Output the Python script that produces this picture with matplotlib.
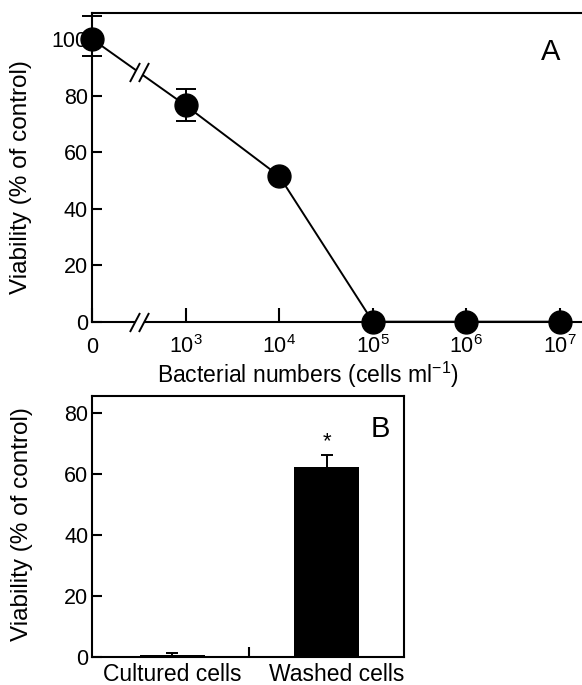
import numpy as np
import matplotlib
matplotlib.use("Agg")
import matplotlib.pyplot as plt
import matplotlib.transforms as mtransforms
from matplotlib.path import Path

plt.rcParams['font.family'] = ['Liberation Sans', 'DejaVu Sans']
plt.rcParams['mathtext.fontset'] = 'custom'
plt.rcParams['mathtext.rm'] = 'Liberation Sans'
plt.rcParams['mathtext.it'] = 'Liberation Sans:italic'
plt.rcParams['mathtext.bf'] = 'Liberation Sans:bold'

# Panel A: viability vs bacterial numbers
dose_labels = ['0', '$10^3$', '$10^4$', '$10^5$', '$10^6$', '$10^7$']
viability_a = [100, 76.5, 51.5, 0, 0, 0]
viability_a_err_low = [6, 5.5, 0, 0, 0, 0]
viability_a_err_high = [8, 5.7, 0, 0, 0, 0]

# Panel B: cultured vs washed cells
cell_types = ['Cultured cells', 'Washed cells']
viability_b = [0.7, 62.4]
viability_b_err = [0.6, 3.8]

fig = plt.figure(figsize=(5.82, 6.85), dpi=100)

lw_spine = 1.5

# ---- panel A ----
axA = fig.add_axes([0.1581, 0.5304, 0.8419, 0.4502])
xA = np.arange(len(dose_labels))
axA.plot(xA, viability_a, color='black', lw=1.4, zorder=2, clip_on=False)
axA.errorbar(xA, viability_a, yerr=[viability_a_err_low, viability_a_err_high],
             fmt='none', ecolor='black', elinewidth=1.4, capsize=7, capthick=1.4,
             zorder=3, clip_on=False)
axA.plot(xA, viability_a, 'o', color='black', ms=16.5, zorder=6, clip_on=False)

axA.set_xlim(0, 5.235)
axA.set_ylim(0, 109.1)
axA.spines['right'].set_visible(False)
for s in ['left', 'top', 'bottom']:
    axA.spines[s].set_linewidth(lw_spine)

axA.set_xticks(xA)
axA.set_xticklabels(dose_labels)
axA.set_yticks([0, 20, 40, 60, 80, 100])
axA.tick_params(axis='y', direction='in', length=7.5, width=1.5, labelsize=15.5, pad=3)
axA.tick_params(axis='x', direction='in', length=10, width=1.5, labelsize=15.5, pad=22.5)
plt.setp(axA.get_xticklabels(), va='baseline')

axA.set_xlabel('Bacterial numbers (cells ml$^{-1}$)', fontsize=16.5)
axA.xaxis.set_label_coords(0.44, -0.125)
axA.set_ylabel('Viability (% of control)', fontsize=17.5)
axA.yaxis.set_label_coords(-0.122, 0.47)
axA.text(0.936, 0.8755, 'A', transform=axA.transAxes, fontsize=21,
         ha='center', va='center')

# axis break marks (on the x axis and on the line)
h = 9.5
slash_path = Path([(-9.5, -h), (0.5, h), (-0.5, -h), (9.5, h)],
                  [Path.MOVETO, Path.LINETO, Path.MOVETO, Path.LINETO])
gap_path = Path([(-9.5, -h), (-0.5, -h), (9.5, h), (0.5, h), (-9.5, -h)],
                [Path.MOVETO, Path.LINETO, Path.LINETO, Path.LINETO, Path.CLOSEPOLY])
xb = 0.5
yb = np.interp(xb, xA, viability_a)
for bx, by in [(xb, 0), (xb, yb)]:
    axA.plot([bx], [by], marker=gap_path, ms=13.7, mfc='white', mec='none',
             linestyle='none', zorder=4, clip_on=False)
    axA.plot([bx], [by], marker=slash_path, ms=13.7, mec='black', mew=1.4,
             linestyle='none', zorder=5, clip_on=False)

# ---- panel B ----
axB = fig.add_axes([0.1586, 0.0409, 0.5356, 0.3810])
xB = np.arange(len(cell_types))
axB.bar(xB, viability_b, width=0.42, color='black', zorder=2)
axB.errorbar(xB, viability_b, yerr=viability_b_err, fmt='none', ecolor='black',
             elinewidth=1.4, capsize=4.5, capthick=1.4, zorder=3)
axB.text(xB[1], viability_b[1] + viability_b_err[1] + 1.0, '*', ha='center',
         va='bottom', fontsize=16)

axB.set_xlim(-0.515, 1.498)
axB.set_ylim(0, 85.7)
for s in axB.spines.values():
    s.set_linewidth(lw_spine)
axB.set_xticks(xB)
axB.set_xticklabels(cell_types)
axB.set_xticks([0.5], minor=True)
axB.set_yticks([0, 20, 40, 60, 80])
axB.tick_params(axis='x', which='major', length=0, labelsize=16.5, pad=4.5)
axB.tick_params(axis='x', which='minor', direction='in', length=7, width=1.5)
axB.tick_params(axis='y', direction='in', length=7.5, width=1.5, labelsize=15.5, pad=3)
# second category label sits a little right of its bar in the original
lab = axB.get_xticklabels()[1]
lab.set_transform(lab.get_transform() +
                  mtransforms.ScaledTranslation(7 / 72, 0, fig.dpi_scale_trans))
axB.set_ylabel('Viability (% of control)', fontsize=17.5)
axB.yaxis.set_label_coords(-0.19, 0.51)
axB.text(0.923, 0.8736, 'B', transform=axB.transAxes, fontsize=21,
         ha='center', va='center')

fig.savefig('out.png', dpi=100)
